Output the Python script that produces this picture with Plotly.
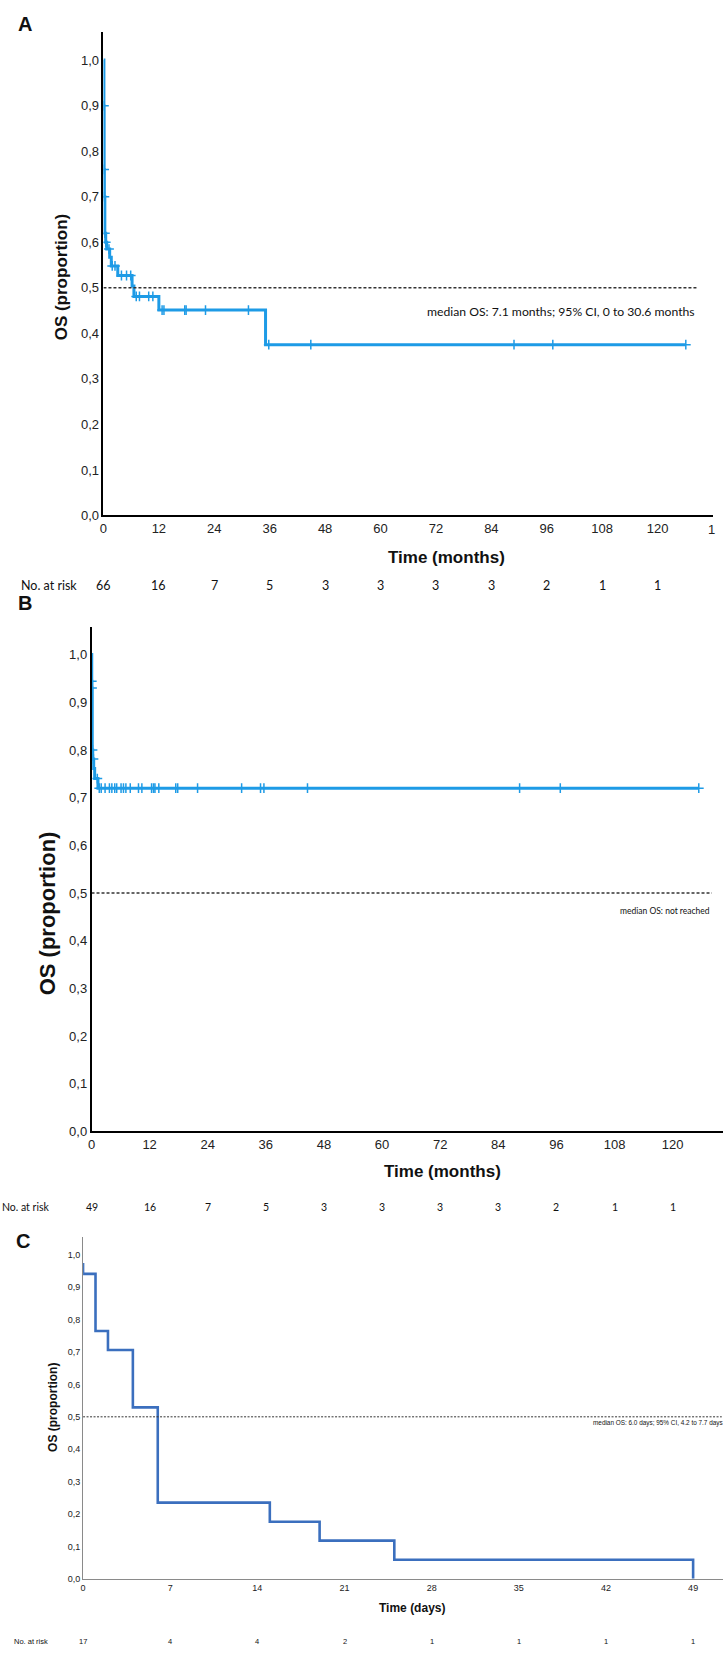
import plotly.graph_objects as go

W, H = 723, 1653

# ---- panel A : OS in months ----
a_time = [0, 0.1, 0.15, 0.2, 0.3, 0.49, 0.71, 1.35, 1.7, 3.1, 6.2, 6.6, 12.0, 35.1, 126.1]
a_surv = [1.0, 0.90, 0.76, 0.70, 0.62, 0.60, 0.585, 0.567, 0.548, 0.527, 0.504, 0.481, 0.451, 0.375, 0.375]
a_cens_t = [0.1, 0.15, 0.2, 0.3, 0.49, 1.2, 1.9, 2.5, 3.9, 5.0, 5.9, 7.1, 7.8, 9.8, 10.7,
            12.7, 13.1, 17.6, 17.9, 22.1, 31.4, 35.8, 44.9, 88.9, 97.3, 126.1]
a_cens_s = [0.90, 0.76, 0.70, 0.62, 0.60, 0.585, 0.548, 0.548, 0.527, 0.527, 0.527, 0.481, 0.481, 0.481, 0.481,
            0.451, 0.451, 0.451, 0.451, 0.451, 0.451, 0.375, 0.375, 0.375, 0.375, 0.375]
a_risk = [66, 16, 7, 5, 3, 3, 3, 3, 2, 1, 1]
a_median_end = 128.8

# ---- panel B : OS in months ----
b_time = [0, 0.05, 0.1, 0.15, 0.25, 0.45, 0.65, 1.33, 125.4]
b_surv = [1.0, 0.944, 0.93, 0.80, 0.781, 0.761, 0.740, 0.720, 0.720]
b_cens_t = [0.05, 0.1, 0.2, 0.4, 1.2, 1.6, 2.0, 2.8, 3.7, 4.2, 4.8, 5.2, 6.1, 6.6, 7.1, 8.0, 9.7, 10.4,
            12.4, 12.8, 13.1, 13.9, 17.4, 17.8, 21.9, 31.0, 34.9, 35.6, 44.6, 88.4, 96.8, 125.4]
b_cens_s = [0.944, 0.93, 0.80, 0.781, 0.740] + [0.720] * 27
b_risk = [49, 16, 7, 5, 3, 3, 3, 3, 2, 1, 1]
b_median_end = 128.1

# ---- panel C : OS in days ----
c_time = [0, 0, 1, 2, 4, 6, 15, 19, 25, 49]
c_surv = [0.975, 0.941, 0.765, 0.706, 0.529, 0.235, 0.176, 0.118, 0.059, 0.0]
c_risk = [17, 4, 4, 2, 1, 1, 1, 1]
c_median_end = 51.3

month_ticks = [0, 12, 24, 36, 48, 60, 72, 84, 96, 108, 120]
day_ticks = [0, 7, 14, 21, 28, 35, 42, 49]
y_ticks = [0, 0.1, 0.2, 0.3, 0.4, 0.5, 0.6, 0.7, 0.8, 0.9, 1.0]
y_labels = ["0,0", "0,1", "0,2", "0,3", "0,4", "0,5", "0,6", "0,7", "0,8", "0,9", "1,0"]
median_level = 0.5

BLUE = "#1E9BE6"
BLUE_C = "#3B6FBE"
ARIAL = "Liberation Sans, Arial, sans-serif"
NARROW = "Liberation Sans Narrow, Liberation Sans, Arial, sans-serif"
CALIBRI = "Lato, Carlito, Calibri, sans-serif"


def xd(p0, p1):
    return [p0 / W, p1 / W]


def yd(top, bottom):
    return [1 - bottom / H, 1 - top / H]


def py(p):
    return 1 - p / H


fig = go.Figure()

# panel A
fig.add_trace(go.Scatter(x=a_time, y=a_surv, mode="lines", line=dict(color=BLUE, width=3, shape="hv"),
                         xaxis="x", yaxis="y"))
fig.add_trace(go.Scatter(x=a_cens_t, y=a_cens_s, mode="markers", xaxis="x", yaxis="y",
                         marker=dict(symbol="cross-thin", size=7, line=dict(color=BLUE, width=1.5))))
fig.add_trace(go.Scatter(x=[0, a_median_end], y=[median_level] * 2, mode="lines", xaxis="x", yaxis="y",
                         line=dict(color="#333333", width=1.5, dash="3px,2px")))

# panel B
fig.add_trace(go.Scatter(x=b_time, y=b_surv, mode="lines", line=dict(color=BLUE, width=3, shape="hv"),
                         xaxis="x2", yaxis="y2"))
fig.add_trace(go.Scatter(x=b_cens_t, y=b_cens_s, mode="markers", xaxis="x2", yaxis="y2",
                         marker=dict(symbol="cross-thin", size=7, line=dict(color=BLUE, width=1.5))))
fig.add_trace(go.Scatter(x=[0, b_median_end], y=[median_level] * 2, mode="lines", xaxis="x2", yaxis="y2",
                         line=dict(color="#333333", width=1.5, dash="3px,2px")))

# panel C
fig.add_trace(go.Scatter(x=c_time, y=c_surv, mode="lines", line=dict(color=BLUE_C, width=2.6, shape="hv"),
                         xaxis="x3", yaxis="y3"))
fig.add_trace(go.Scatter(x=[0, c_median_end], y=[median_level] * 2, mode="lines", xaxis="x3", yaxis="y3",
                         line=dict(color="#333333", width=1, dash="2px,1.5px")))


def xaxis(dom, rng, ticks, anchor, size, color="black", lw=1.5, font=ARIAL):
    return dict(domain=dom, range=rng, tickvals=ticks, anchor=anchor, showline=True, linecolor=color,
                linewidth=lw, showgrid=False, zeroline=False, ticks="", fixedrange=True,
                tickfont=dict(family=font, size=size, color="#222222"))


def yaxis(dom, rng, anchor, size, color="black", lw=1.5, font=ARIAL):
    return dict(domain=dom, range=rng, tickvals=y_ticks, ticktext=y_labels, anchor=anchor, showline=True,
                linecolor=color, linewidth=lw, showgrid=False, zeroline=False, ticks="", fixedrange=True,
                tickfont=dict(family=font, size=size, color="#222222"))


fig.update_layout(
    width=W, height=H, margin=dict(l=0, r=0, t=0, b=0),
    paper_bgcolor="white", plot_bgcolor="white", showlegend=False,
    xaxis=xaxis(xd(100, 713), [0, 132], month_ticks, "y", 13),
    yaxis=yaxis(yd(32, 518), [0, 1.062], "x", 13),
    xaxis2=xaxis(xd(88, 723), [0, 130.4], month_ticks, "y2", 13),
    yaxis2=yaxis(yd(630, 1137), [0, 1.058], "x2", 13),
    xaxis3=xaxis(xd(79.5, 723), [0, 51.4], day_ticks, "y3", 9, color="#8a8a8a", lw=1, font=NARROW),
    yaxis3=yaxis(yd(1243, 1586.5), [0, 1.055], "x3", 9, color="#8a8a8a", lw=1, font=NARROW),
)

ann = []


def txt(x, y, s, size, family=ARIAL, bold=False, xref="paper", xanchor="center", angle=0, color="#111111"):
    if bold:
        s = "<b>" + s + "</b>"
    ann.append(dict(x=x, y=y, xref=xref, yref="paper", text=s, showarrow=False, xanchor=xanchor,
                    yanchor="middle", textangle=angle, font=dict(family=family, size=size, color=color)))


# panel letters
txt(21 / W, py(24), "A", 20, bold=True)
txt(21 / W, py(606), "B", 20, bold=True)
txt(19 / W, py(1247), "C", 20, bold=True)

# axis titles
txt(445 / W, py(560), "Time (months)", 17, bold=True)
txt(58 / W, py(278), "OS (proportion)", 17, bold=True, angle=-90)
txt(441 / W, py(1177), "Time (months)", 17, bold=True)
txt(44 / W, py(918), "OS (proportion)", 22, bold=True, angle=-90)
txt(410 / W, py(1616), "Time (days)", 12, family=NARROW, bold=True)
txt(49 / W, py(1414), "OS (proportion)", 12, bold=True, angle=-90)

# clipped tick label at the right edge of panel A
txt(711 / W, py(532), "1", 13, color="#222222")

# median annotations
txt(697 / W, py(313), "median OS: 7.1 months; 95% CI, 0 to 30.6 months", 12.2, family=CALIBRI, xanchor="right")
txt(712 / W, py(915), "median OS: not reached", 8.5, family=CALIBRI, xanchor="right")
txt(590 / W, py(1430), "median OS: 6.0 days; 95% CI, 4.2 to 7.7 days", 6.4, family=ARIAL, xanchor="left")

# numbers at risk
txt(45 / W, py(588), "No. at risk", 12.5, family=CALIBRI)
for t, n in zip(month_ticks, a_risk):
    txt(t, py(588), str(n), 12.5, family=CALIBRI, xref="x")
txt(22 / W, py(1213), "No. at risk", 10.5, family=CALIBRI)
for t, n in zip(month_ticks, b_risk):
    txt(t, py(1213), str(n), 10.5, family=CALIBRI, xref="x2")
txt(27 / W, py(1649), "No. at risk", 7.5, family=NARROW)
for t, n in zip(day_ticks, c_risk):
    txt(t, py(1649), str(n), 7.5, family=NARROW, xref="x3")

fig.update_layout(annotations=ann)

# the page body has a default 8px margin; drop it so the figure fills the window
fig.write_html("out.html", config={"displayModeBar": False},
               post_script="document.body.style.margin='0';")
